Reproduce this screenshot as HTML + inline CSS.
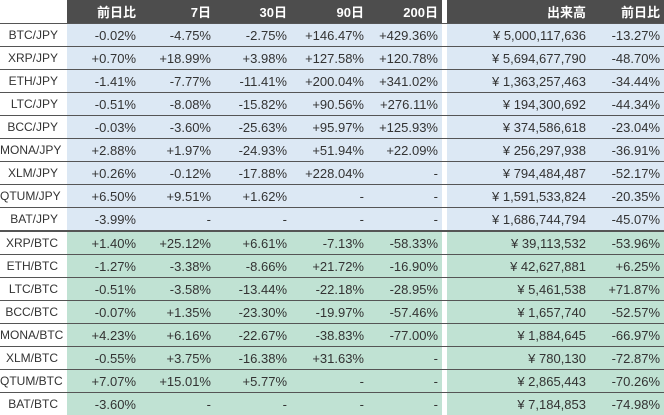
<!DOCTYPE html><html><head><meta charset="utf-8"><style>
body{margin:0;width:664px;height:415px;overflow:hidden;background:#fff;font-family:"Liberation Sans","Noto Sans CJK JP",sans-serif;}
table{border-collapse:collapse;position:absolute;left:0;top:0;table-layout:fixed;width:664px}
td,th{height:22px;padding:0 4px 0 0;text-align:right;font-size:13px;color:#333;white-space:nowrap;overflow:hidden}
th{background:#4d4d4d;color:#fff;font-weight:bold;height:23px;font-size:13px}
th.e{background:#fff}
tr.r td{border-top:1.5px solid #555}
tr.b td{background:#dce8f4}
tr.g td{background:#c0e2d3}
tr td.l{background:#fff;padding-right:9px;font-size:12px;overflow:visible}
tr td.gap{background:#fff;padding:0}
tr.thick td{border-top:2.5px solid #555}
</style></head><body>
<table>
<colgroup><col style="width:67px"><col style="width:73px"><col style="width:75px"><col style="width:76px"><col style="width:77px"><col style="width:74px"><col style="width:5px"><col style="width:143px"><col style="width:74px"></colgroup>
<tr><th class="e"></th><th>前日比</th><th>7日</th><th>30日</th><th>90日</th><th>200日</th><th class="e" style="padding:0"></th><th>出来高</th><th>前日比</th></tr>
<tr class="r b"><td class="l">BTC/JPY</td><td>-0.02%</td><td>-4.75%</td><td>-2.75%</td><td>+146.47%</td><td>+429.36%</td><td class="gap"></td><td>¥ 5,000,117,636</td><td>-13.27%</td></tr>
<tr class="r b"><td class="l">XRP/JPY</td><td>+0.70%</td><td>+18.99%</td><td>+3.98%</td><td>+127.58%</td><td>+120.78%</td><td class="gap"></td><td>¥ 5,694,677,790</td><td>-48.70%</td></tr>
<tr class="r b"><td class="l">ETH/JPY</td><td>-1.41%</td><td>-7.77%</td><td>-11.41%</td><td>+200.04%</td><td>+341.02%</td><td class="gap"></td><td>¥ 1,363,257,463</td><td>-34.44%</td></tr>
<tr class="r b"><td class="l">LTC/JPY</td><td>-0.51%</td><td>-8.08%</td><td>-15.82%</td><td>+90.56%</td><td>+276.11%</td><td class="gap"></td><td>¥ 194,300,692</td><td>-44.34%</td></tr>
<tr class="r b"><td class="l">BCC/JPY</td><td>-0.03%</td><td>-3.60%</td><td>-25.63%</td><td>+95.97%</td><td>+125.93%</td><td class="gap"></td><td>¥ 374,586,618</td><td>-23.04%</td></tr>
<tr class="r b"><td class="l">MONA/JPY</td><td>+2.88%</td><td>+1.97%</td><td>-24.93%</td><td>+51.94%</td><td>+22.09%</td><td class="gap"></td><td>¥ 256,297,938</td><td>-36.91%</td></tr>
<tr class="r b"><td class="l">XLM/JPY</td><td>+0.26%</td><td>-0.12%</td><td>-17.88%</td><td>+228.04%</td><td>-</td><td class="gap"></td><td>¥ 794,484,487</td><td>-52.17%</td></tr>
<tr class="r b"><td class="l">QTUM/JPY</td><td>+6.50%</td><td>+9.51%</td><td>+1.62%</td><td>-</td><td>-</td><td class="gap"></td><td>¥ 1,591,533,824</td><td>-20.35%</td></tr>
<tr class="r b"><td class="l">BAT/JPY</td><td>-3.99%</td><td>-</td><td>-</td><td>-</td><td>-</td><td class="gap"></td><td>¥ 1,686,744,794</td><td>-45.07%</td></tr>
<tr class="r g thick"><td class="l">XRP/BTC</td><td>+1.40%</td><td>+25.12%</td><td>+6.61%</td><td>-7.13%</td><td>-58.33%</td><td class="gap"></td><td>¥ 39,113,532</td><td>-53.96%</td></tr>
<tr class="r g"><td class="l">ETH/BTC</td><td>-1.27%</td><td>-3.38%</td><td>-8.66%</td><td>+21.72%</td><td>-16.90%</td><td class="gap"></td><td>¥ 42,627,881</td><td>+6.25%</td></tr>
<tr class="r g"><td class="l">LTC/BTC</td><td>-0.51%</td><td>-3.58%</td><td>-13.44%</td><td>-22.18%</td><td>-28.95%</td><td class="gap"></td><td>¥ 5,461,538</td><td>+71.87%</td></tr>
<tr class="r g"><td class="l">BCC/BTC</td><td>-0.07%</td><td>+1.35%</td><td>-23.30%</td><td>-19.97%</td><td>-57.46%</td><td class="gap"></td><td>¥ 1,657,740</td><td>-52.57%</td></tr>
<tr class="r g"><td class="l">MONA/BTC</td><td>+4.23%</td><td>+6.16%</td><td>-22.67%</td><td>-38.83%</td><td>-77.00%</td><td class="gap"></td><td>¥ 1,884,645</td><td>-66.97%</td></tr>
<tr class="r g"><td class="l">XLM/BTC</td><td>-0.55%</td><td>+3.75%</td><td>-16.38%</td><td>+31.63%</td><td>-</td><td class="gap"></td><td>¥ 780,130</td><td>-72.87%</td></tr>
<tr class="r g"><td class="l">QTUM/BTC</td><td>+7.07%</td><td>+15.01%</td><td>+5.77%</td><td>-</td><td>-</td><td class="gap"></td><td>¥ 2,865,443</td><td>-70.26%</td></tr>
<tr class="r g"><td class="l">BAT/BTC</td><td>-3.60%</td><td>-</td><td>-</td><td>-</td><td>-</td><td class="gap"></td><td>¥ 7,184,853</td><td>-74.98%</td></tr>
</table>
</body></html>
